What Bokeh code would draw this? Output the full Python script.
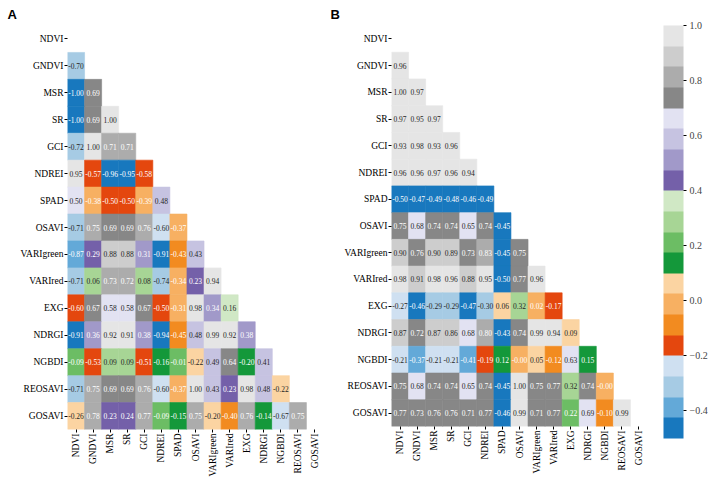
import math
from bokeh.plotting import figure
from bokeh.layouts import row
from bokeh.models import ColumnDataSource, LinearColorMapper, ColorBar, FixedTicker
from bokeh.transform import transform
from bokeh.core.properties import value
from bokeh.embed import file_html
from bokeh.resources import INLINE

indices = ["NDVI", "GNDVI", "MSR", "SR", "GCI", "NDREI", "SPAD", "OSAVI",
           "VARIgreen", "VARIred", "EXG", "NDRGI", "NGBDI", "REOSAVI", "GOSAVI"]

# ---- Panel A: lower-triangle correlations (row index vs. earlier columns)
a_GNDVI = [-0.702]
a_MSR = [-1.00, 0.69]
a_SR = [-1.00, 0.69, 1.00]
a_GCI = [-0.72, 1.00, 0.71, 0.71]
a_NDREI = [0.95, -0.57, -0.96, -0.95, -0.58]
a_SPAD = [0.502, -0.38, -0.502, -0.502, -0.39, 0.48]
a_OSAVI = [-0.71, 0.75, 0.69, 0.69, 0.76, -0.603, -0.37]
a_VARIgreen = [-0.87, 0.29, 0.88, 0.88, 0.31, -0.91, -0.43, 0.43]
a_VARIred = [-0.71, 0.06, 0.73, 0.72, 0.08, -0.74, -0.34, 0.23, 0.94]
a_EXG = [-0.598, 0.67, 0.58, 0.58, 0.67, -0.502, -0.31, 0.98, 0.34, 0.16]
a_NDRGI = [-0.91, 0.36, 0.92, 0.91, 0.38, -0.94, -0.45, 0.48, 0.99, 0.92, 0.38]
a_NGBDI = [-0.09, -0.53, 0.09, 0.09, -0.51, -0.16, -0.01, -0.22, 0.49, 0.64, -0.199, 0.41]
a_REOSAVI = [-0.71, 0.75, 0.69, 0.69, 0.76, -0.603, -0.37, 1.00, 0.43, 0.23, 0.98, 0.48, -0.22]
a_GOSAVI = [-0.26, 0.78, 0.23, 0.24, 0.77, -0.09, -0.15, 0.75, -0.201, -0.401, 0.76, -0.14, -0.67, 0.75]

# ---- Panel B
b_GNDVI = [0.96]
b_MSR = [1.00, 0.97]
b_SR = [0.97, 0.95, 0.97]
b_GCI = [0.93, 0.98, 0.93, 0.96]
b_NDREI = [0.96, 0.96, 0.97, 0.96, 0.94]
b_SPAD = [-0.50, -0.47, -0.49, -0.48, -0.46, -0.49]
b_OSAVI = [0.75, 0.68, 0.74, 0.74, 0.65, 0.74, -0.45]
b_VARIgreen = [0.90, 0.76, 0.90, 0.89, 0.73, 0.83, -0.45, 0.75]
b_VARIred = [0.98, 0.91, 0.98, 0.96, 0.88, 0.95, -0.50, 0.77, 0.96]
b_EXG = [-0.27, -0.46, -0.29, -0.29, -0.47, -0.30, 0.06, 0.32, 0.02, -0.17]
b_NDRGI = [0.87, 0.72, 0.87, 0.86, 0.68, 0.80, -0.43, 0.74, 0.99, 0.94, 0.09]
b_NGBDI = [-0.21, -0.37, -0.21, -0.21, -0.41, -0.19, 0.12, -0.0, 0.05, -0.12, 0.63, 0.15]
b_REOSAVI = [0.75, 0.68, 0.74, 0.74, 0.65, 0.74, -0.45, 1.00, 0.75, 0.77, 0.32, 0.74, -0.0]
b_GOSAVI = [0.77, 0.73, 0.76, 0.76, 0.71, 0.77, -0.46, 0.99, 0.71, 0.77, 0.22, 0.69, -0.10, 0.99]

a_rows = [a_GNDVI, a_MSR, a_SR, a_GCI, a_NDREI, a_SPAD, a_OSAVI, a_VARIgreen,
          a_VARIred, a_EXG, a_NDRGI, a_NGBDI, a_REOSAVI, a_GOSAVI]
b_rows = [b_GNDVI, b_MSR, b_SR, b_GCI, b_NDREI, b_SPAD, b_OSAVI, b_VARIgreen,
          b_VARIred, b_EXG, b_NDRGI, b_NGBDI, b_REOSAVI, b_GOSAVI]

a_range = (-1.0, 1.0)
b_range = (-0.5, 1.0)
cb_ticks = [-0.4, -0.2, 0.0, 0.2, 0.4, 0.6, 0.8, 1.0]

# tab20c-like palette (low -> high)
palette = ["#1878be", "#63a9d8", "#a6cbe4", "#cfe0f1",
           "#e4470e", "#f28b20", "#f7b062", "#fbd4a2",
           "#14983a", "#6cbd64", "#a7d595", "#d0e8c5",
           "#7460a9", "#a199c9", "#c6c3e1", "#e2e2f2",
           "#878787", "#acacac", "#cdcdcd", "#e5e5e5"]
W, D = "#ffffff", "#262626"
text_palette = [W, W, D, D, W, W, W, D, W, W, D, D, W, W, D, D, W, W, D, D]

SERIF = "Liberation Serif"


def make_panel(rows, vrange, letter, top, fh, left, right, bottom, title_off):
    xs, ys, vs, ts = [], [], [], []
    for i, vals in enumerate(rows):
        for j, v in enumerate(vals):
            xs.append(indices[j])
            ys.append(indices[i + 1])
            vs.append(v)
            ts.append(f"{v:.2f}")
    src = ColumnDataSource(dict(x=xs, y=ys, v=vs, t=ts))
    cmap = LinearColorMapper(palette=palette, low=vrange[0], high=vrange[1])
    tmap = LinearColorMapper(palette=text_palette, low=vrange[0], high=vrange[1])
    p = figure(x_range=indices, y_range=list(reversed(indices)),
               frame_width=256, frame_height=fh,
               min_border_left=left, min_border_right=right,
               min_border_top=top, min_border_bottom=bottom,
               output_backend="svg", toolbar_location=None, tools="")
    p.rect(x="x", y="y", width=1, height=1, source=src,
           fill_color=transform("v", cmap), line_color=transform("v", cmap), line_width=0.6)
    p.text(x="x", y="y", text="t", source=src,
           text_font=value(SERIF), text_font_size=value("7.5px"),
           text_align="center", text_baseline="middle",
           text_color=transform("v", tmap))
    p.outline_line_color = None
    p.grid.visible = False
    p.background_fill_color = "white"
    p.border_fill_color = "white"
    for ax in (p.xaxis, p.yaxis):
        ax.axis_line_color = None
        ax.major_tick_line_color = "black"
        ax.major_tick_out = 3
        ax.major_tick_in = 0
        ax.minor_tick_line_color = None
        ax.major_label_standoff = 1
        ax.major_label_text_font = SERIF
        ax.major_label_text_font_size = "9.5px"
        ax.major_label_text_font_style = "normal"
        ax.major_label_text_color = "black"
    p.xaxis.major_label_orientation = math.pi / 2
    # panel letter as the figure title
    p.title.text = letter
    p.title.align = "left"
    p.title.vertical_align = "bottom"
    p.title.offset = title_off
    p.title.text_font = "Liberation Sans"
    p.title.text_font_style = "bold"
    p.title.text_font_size = "13px"
    p.title.text_color = "black"
    p.title.standoff = 8
    return p, cmap


pa, cmap_a = make_panel(a_rows, a_range, "A", 24, 404, 67, 5, 54, -60)
pb, cmap_b = make_panel(b_rows, b_range, "B", 20, 401, 63, 61, 61, -61)

cb = ColorBar(color_mapper=cmap_b, ticker=FixedTicker(ticks=cb_ticks),
              major_label_overrides={t: f"{t:.1f}".replace("-", "\u2212") for t in cb_ticks},
              width=20, height=413, location=(16, -12), padding=0, margin=0,
              major_tick_out=3, major_tick_in=0, major_tick_line_color="black",
              bar_line_color=None, border_line_color=None, background_fill_color=None,
              major_label_text_font=SERIF, major_label_text_font_size="10px",
              label_standoff=3)
pb.add_layout(cb, "right")

layout = row(pa, pb)
open("out.html", "w").write(file_html(layout, INLINE))
